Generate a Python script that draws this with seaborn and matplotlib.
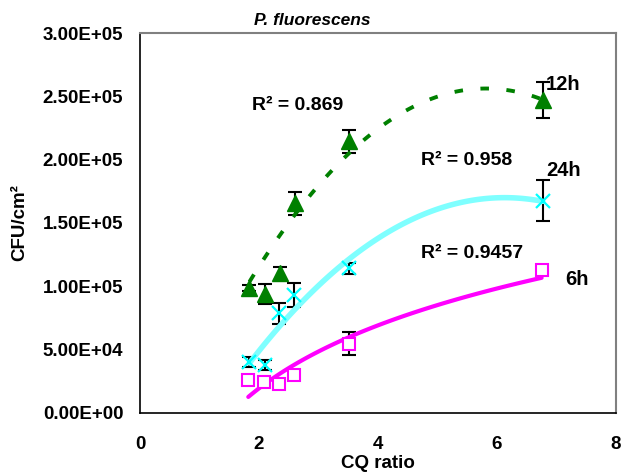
import numpy as np
import pandas as pd
import seaborn as sns
import matplotlib
matplotlib.use("Agg")
import matplotlib.pyplot as plt

# ---- data ----
x_6h = [1.82, 2.09, 2.33, 2.58, 3.51, 6.75]
y_6h = [2.55e4, 2.40e4, 2.25e4, 2.98e4, 5.45e4, 1.125e5]
e_6h = [2.0e3, 2.0e3, 3.7e3, 4.3e3, 9.2e3, 1.5e3]

x_12h = [1.84, 2.10, 2.36, 2.60, 3.52, 6.77]
y_12h = [9.85e4, 9.4e4, 1.10e5, 1.655e5, 2.145e5, 2.47e5]
e_12h = [2.4e3, 8.0e3, 5.0e3, 9.0e3, 9.0e3, 1.4e4]

x_24h = [1.84, 2.10, 2.33, 2.59, 3.52, 6.77]
y_24h = [4.0e4, 3.77e4, 7.85e4, 9.3e4, 1.14e5, 1.675e5]
e_24h = [4.0e3, 3.7e3, 8.4e3, 9.5e3, 4.6e3, 1.6e4]

# 12h trendline as drawn in the reference
trend12_x = [1.84, 2.07, 2.33, 2.58, 2.86, 3.14, 3.47, 4.71, 5.04, 5.43, 5.83, 6.22, 6.61, 6.77]
trend12_y = [1.048e5, 1.206e5, 1.377e5, 1.548e5, 1.712e5, 1.87e5, 2.03e5,
             2.444e5, 2.51e5, 2.549e5, 2.562e5, 2.549e5, 2.496e5, 2.47e5]

r2_labels = ["R\u00b2 = 0.869", "R\u00b2 = 0.958", "R\u00b2 = 0.9457"]
series_labels = ["12h", "24h", "6h"]
x_ticks = [0, 2, 4, 6, 8]
y_ticks = [0, 5e4, 1e5, 1.5e5, 2e5, 2.5e5, 3e5]
y_tick_labels = ["0.00E+00", "5.00E+04", "1.00E+05", "1.50E+05",
                 "2.00E+05", "2.50E+05", "3.00E+05"]

sns.set_theme(style="white")
plt.rcParams['font.family'] = ['Liberation Sans', 'DejaVu Sans']
plt.rcParams.update({"text.color": "black", "axes.labelcolor": "black",
                     "xtick.color": "black", "ytick.color": "black"})

fig = plt.figure(figsize=(6.23, 4.72), dpi=100)
ax = fig.add_axes([140/623, 1-412.7/472, (616-140)/623, (412.7-33)/472])

GREEN = "#008000"
CYAN = "#00FFFF"
CYAN_LINE = "#7FFFFF"
MAGENTA = "#FF00FF"

df6 = pd.DataFrame({"x": x_6h, "y": y_6h})
df24 = pd.DataFrame({"x": x_24h, "y": y_24h})
dft12 = pd.DataFrame({"x": trend12_x, "y": trend12_y})

# error bars (behind)
for xs, ys, es in [(x_12h, y_12h, e_12h), (x_24h, y_24h, e_24h), (x_6h, y_6h, e_6h)]:
    ax.errorbar(xs, ys, yerr=es, fmt="none", ecolor="black", elinewidth=1.5,
                capsize=5, capthick=1.5, zorder=2)

# trendlines
sns.regplot(data=dft12, x="x", y="y", order=2, ci=None, scatter=False, ax=ax,
            line_kws=dict(color=GREEN, lw=2.8, ls=(0, (2.2, 4.5)), zorder=3))
sns.regplot(data=df24, x="x", y="y", order=2, ci=None, scatter=False, ax=ax,
            line_kws=dict(color=CYAN_LINE, lw=4.0, zorder=3))
sns.regplot(data=df6, x="x", y="y", logx=True, ci=None, scatter=False, ax=ax,
            line_kws=dict(color=MAGENTA, lw=3.0, zorder=3))

# markers
ax.plot(x_12h, y_12h, ls="none", marker="^", ms=11, color=GREEN, zorder=4)
ax.plot(x_24h, y_24h, ls="none", marker="x", ms=9.5, mew=1.6, color=CYAN, zorder=4)
ax.plot(x_6h, y_6h, ls="none", marker="s", ms=8.5, mew=1.5, mfc="white",
        mec=MAGENTA, zorder=4)

ax.set_xlim(0, 8)
ax.set_ylim(0, 3e5)
ax.set_xticks(x_ticks)
ax.set_xticklabels([str(t) for t in x_ticks])
ax.set_yticks(y_ticks)
ax.set_yticklabels(y_tick_labels)
ax.tick_params(axis="both", direction="in", length=5, width=1, color="black",
               labelcolor="black", labelsize=13.5)
ax.tick_params(axis="x", pad=17)
ax.tick_params(axis="y", pad=12)
for lab in ax.get_xticklabels() + ax.get_yticklabels():
    lab.set_fontweight("bold")

for side in ["left", "bottom"]:
    ax.spines[side].set_color("black")
    ax.spines[side].set_linewidth(1.2)
for side in ["top", "right"]:
    ax.spines[side].set_color("#808080")
    ax.spines[side].set_linewidth(1.5)

ax.set_xlabel("CQ ratio", fontsize=13.5, fontweight="bold", color="black")
ax.xaxis.set_label_coords((378-140)/476, (412.7-455)/379.7)
ax.set_ylabel("CFU/cm\u00b2", fontsize=13.5, fontweight="bold", color="black")
ax.yaxis.set_label_coords(-(140-28)/476, 0.5)
ax.set_title("P. fluorescens", fontsize=12.5, fontweight="bold",
             fontstyle="italic", x=(312-140)/476, pad=6, color="black")

# annotations
fs_r2 = 14
ax.text(1.89, 2.43e5, r2_labels[0], fontsize=fs_r2, fontweight="bold", ha="left", va="center")
ax.text(4.72, 1.99e5, r2_labels[1], fontsize=fs_r2, fontweight="bold", ha="left", va="center")
ax.text(4.72, 1.255e5, r2_labels[2], fontsize=fs_r2, fontweight="bold", ha="left", va="center")
ax.text(6.82, 2.59e5, series_labels[0], fontsize=14.5, fontweight="bold", ha="left", va="center")
ax.text(6.82, 1.91e5, series_labels[1], fontsize=14.5, fontweight="bold", ha="left", va="center")
ax.text(7.14, 1.05e5, series_labels[2], fontsize=14.5, fontweight="bold", ha="left", va="center")

fig.savefig("out.png", dpi=100)
